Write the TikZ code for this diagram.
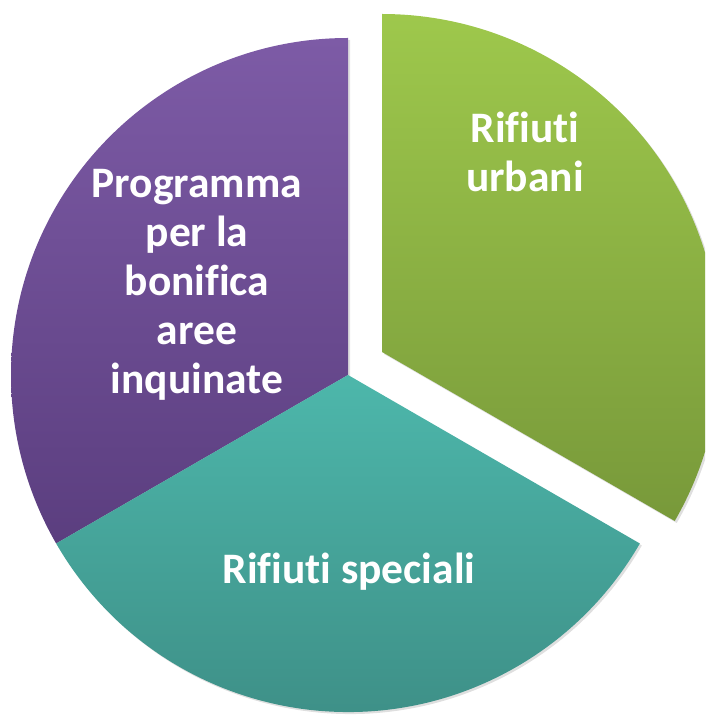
\documentclass[tikz,border=0pt]{standalone}
\usepackage{fontspec}
\setmainfont[Ligatures={NoCommon,NoContextual},RawFeature={-liga;-clig;-dlig}]{Carlito}
\usepackage{tikz}
\usetikzlibrary{positioning, shadows}
\definecolor{pietop}{RGB}{125,91,166}
\definecolor{piebottom}{RGB}{91,62,127}
\definecolor{tealtop}{RGB}{77,183,171}
\definecolor{tealbottom}{RGB}{60,139,131}
\definecolor{greentop}{RGB}{158,200,76}
\definecolor{greenbottom}{RGB}{120,153,58}

\begin{document}
\begin{tikzpicture}[
    x=1pt, y=1pt,
    slice/.style={drop shadow={opacity=0.25, shadow xshift=2pt, shadow yshift=-2pt}},
    label/.style={text=white, align=center, font=\fontsize{43.5}{49}\selectfont\bfseries}
]
    \useasboundingbox (0,0) rectangle (705,718);
    \clip (0,0) rectangle (705,718);

    % Centres
    \coordinate (centre) at (348,343);
    \coordinate (shifted) at (382,366);

    % Slices
    \path[slice, top color=pietop, bottom color=piebottom]
        (centre) -- ++(90:337) arc (90:210:337) -- cycle;
    \path[slice, top color=tealtop, bottom color=tealbottom]
        (centre) -- ++(210:337) arc (210:330:337) -- cycle;
    \path[slice, top color=greentop, bottom color=greenbottom]
        (shifted) -- ++(-30:338) arc (-30:90:338) -- cycle;

    % Labels
    \node[label] (bonifica) at (197,433) {Programma\\per la\\bonifica\\aree\\inquinate};
    \node[label] (speciali) at (349,146) {Rifiuti speciali};
    \node[label] (urbani) at (525,566) {Rifiuti\\urbani};
\end{tikzpicture}
\end{document}
